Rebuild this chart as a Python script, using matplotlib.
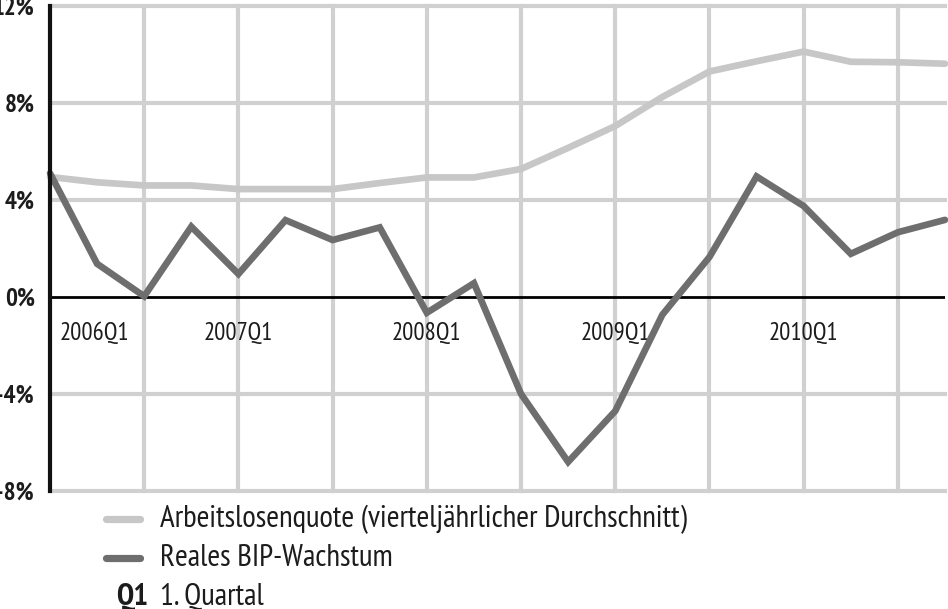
import matplotlib
matplotlib.use("Agg")
import matplotlib.pyplot as plt
from matplotlib.lines import Line2D
from matplotlib import font_manager
from matplotlib.font_manager import FontProperties
from matplotlib.textpath import TextPath

# ---------------- data ----------------
quarters = [f"{y}Q{q}" for y in range(2006, 2011) for q in range(1, 5)]
unemployment = [4.95, 4.73, 4.6, 4.6, 4.45, 4.45, 4.45, 4.7, 4.93, 4.93,
                5.28, 6.15, 7.05, 8.25, 9.3, 9.72, 10.12, 9.7, 9.68, 9.62]
gdp_growth = [5.1, 1.37, 0.03, 2.9, 0.95, 3.17, 2.35, 2.87, -0.65, 0.57,
              -4.0, -6.8, -4.7, -0.73, 1.65, 4.97, 3.75, 1.78, 2.67, 3.18]
ytick_vals = [-8, -4, 0, 4, 8, 12]
ytick_labels = ['–8%', '–4%', '0%', '4%', '8%', '12%']
label_quarters = ['2006Q1', '2007Q1', '2008Q1', '2009Q1', '2010Q1']
legend_labels = ['Arbeitslosenquote (vierteljährlicher Durchschnitt)', 'Reales BIP-Wachstum']
note_key, note_text = 'Q1', '1. Quartal'

# ---------------- font choice (closest shape to the condensed reference face) ----------------
def _w(v):
    try:
        return int(v)
    except Exception:
        return {'bold': 700, 'semibold': 600, 'demibold': 600, 'heavy': 800,
                'black': 900, 'extra bold': 800}.get(str(v).lower(), 400)

faces = {}
for f in font_manager.fontManager.ttflist:
    if f.style == 'normal':
        faces.setdefault(f.name, set()).add(_w(f.weight))

cands = ['Myriad Pro Cond', 'Myriad Pro', 'Fira Sans Extra Condensed', 'Fira Sans Condensed',
         'Sofia Sans Extra Condensed', 'Sofia Sans Condensed', 'Open Sans Condensed',
         'Roboto Condensed', 'Encode Sans Condensed', 'Asap Condensed', 'Archivo Narrow',
         'PT Sans Narrow', 'Ubuntu Condensed', 'Cabin Condensed', 'Pragati Narrow',
         'Barlow Semi Condensed', 'IBM Plex Sans Condensed', 'Liberation Sans Narrow']
TARGET = 225.0 / 21.0   # width of "Reales BIP-Wachstum" / cap height of "R"
FONT, best = 'DejaVu Sans', 1e9
for c in cands:
    ws = faces.get(c)
    if not ws or 400 not in ws or not any(w >= 600 for w in ws):
        continue
    try:
        fp = FontProperties(family=c)
        w = TextPath((0, 0), legend_labels[1], size=20, prop=fp).get_extents().width
        h = TextPath((0, 0), 'R', size=20, prop=fp).get_extents().height
        r = w / h
        if abs(r - TARGET) < best - 0.15:
            best, FONT = abs(r - TARGET), c
    except Exception:
        pass
plt.rcParams['font.family'] = [FONT, 'DejaVu Sans']
BOLD = 'semibold' if 600 in faces.get(FONT, set()) else 'bold'

LIGHT = '#c7c7c7'
DARK = '#6e6e6e'
GRID = '#d0d0d0'
TXT = '#1c1c1c'

fig = plt.figure(figsize=(9.48, 6.09), dpi=100)
renderer = fig.canvas.get_renderer()


def fit_size(s, target_px, weight='normal'):
    t = fig.text(0, 0, s, fontsize=20, fontweight=weight)
    w = t.get_window_extent(renderer).width
    t.remove()
    return 20 * target_px / w


ax = fig.add_axes([50/948, 1-491/609, 895/948, 485/609])
x = list(range(len(quarters)))
ax.set_xlim(0, len(quarters) - 1)
ax.set_ylim(-8, 12)

# grid
for v in ytick_vals:
    if v != 0:
        ax.axhline(v, color=GRID, lw=3.0, zorder=1, clip_on=False)
for i in range(2, len(quarters), 2):
    ax.axvline(i, color=GRID, lw=3.0, zorder=1, clip_on=False)
ax.axhline(0, color='black', lw=2.0, zorder=2)

ax.plot(x, unemployment, color=LIGHT, lw=4.8, solid_capstyle='round',
        solid_joinstyle='miter', zorder=3, clip_on=False)
ax.plot(x, gdp_growth, color=DARK, lw=4.8, solid_capstyle='round',
        solid_joinstyle='miter', zorder=4, clip_on=False)

for s in ['top', 'right', 'bottom']:
    ax.spines[s].set_visible(False)
ax.spines['left'].set_linewidth(3.0)
ax.spines['left'].set_color('#111111')
ax.spines['left'].set_zorder(5)

tick_fs = fit_size('0%', 30, BOLD)
ax.set_xticks([])
ax.set_yticks(ytick_vals)
ax.set_yticklabels(ytick_labels)
ax.tick_params(axis='y', length=0, pad=11, labelsize=tick_fs)
for t in ax.get_yticklabels():
    t.set_fontweight(BOLD)
    t.set_color(TXT)

q_fs = fit_size('2006Q1', 69)
for lab in label_quarters:
    i = quarters.index(lab)
    if i == 0:
        ax.text(i + 0.21, -1.5, lab, ha='left', va='center', fontsize=q_fs, color=TXT)
    else:
        ax.text(i, -1.5, lab, ha='center', va='center', fontsize=q_fs, color=TXT)

# legend (manual)
leg_fs = fit_size(legend_labels[1], 232)
rows_y = [519, 558]
colors = [LIGHT, DARK]
for yy, c, lab in zip(rows_y, colors, legend_labels):
    fy = 1 - yy/609
    fig.add_artist(Line2D([106/948, 140/948], [fy, fy], color=c, lw=5.2,
                          solid_capstyle='round', transform=fig.transFigure))
    fig.text(160/948, fy, lab, ha='left', va='center', fontsize=leg_fs, color=TXT)

fy = 1 - 597/609
fig.text(148/948, fy, note_key, ha='right', va='center', fontsize=leg_fs,
         fontweight='bold', color=TXT)
fig.text(160/948, fy, note_text, ha='left', va='center', fontsize=leg_fs, color=TXT)

fig.savefig('out.png', dpi=100)
